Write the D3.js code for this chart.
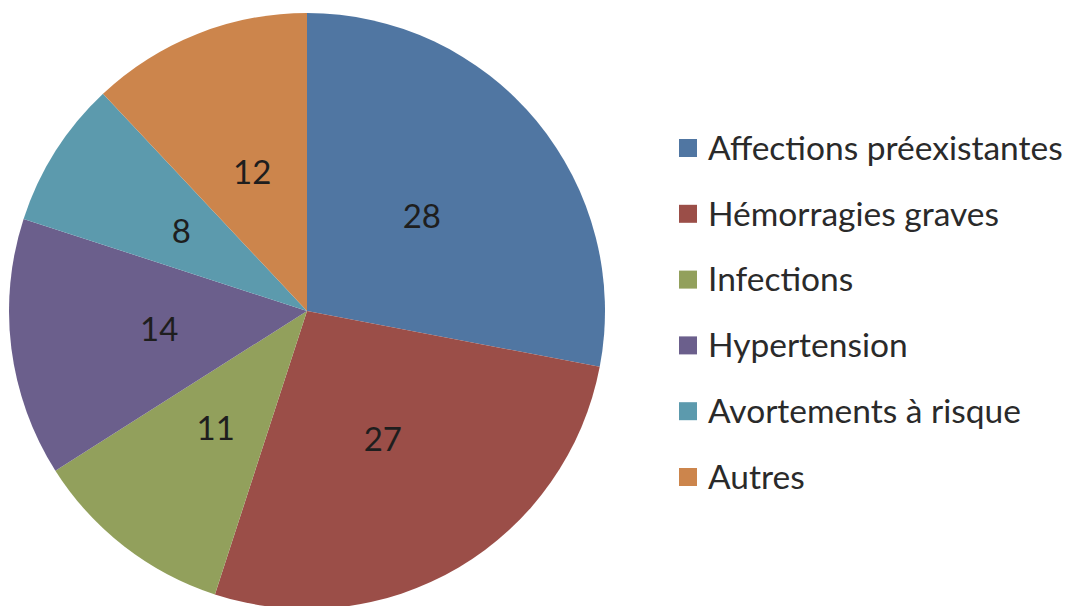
<!DOCTYPE html>
<html>
<head>
<meta charset="utf-8">
<script src="https://cdn.jsdelivr.net/npm/d3@7"></script>
<style>
  body { margin: 0; background: #fff; }
  svg { display: block; }
</style>
</head>
<body>
<div id="chart"></div>
<script>
// categories and values
var categories = ["Affections préexistantes", "Hémorragies graves", "Infections",
                  "Hypertension", "Avortements à risque", "Autres"];
var values = [28, 27, 11, 14, 8, 12];
var colors = ["#5076a2", "#9b4e48", "#92a05c", "#6b5f8c", "#5c9aad", "#cc854c"];

var width = 1076, height = 606;
var cx = 307, cy = 311, radius = 298;

var svg = d3.select("#chart").append("svg")
  .attr("width", width)
  .attr("height", height);

var data = categories.map(function(c, i) { return {name: c, value: values[i]}; });

var pie = d3.pie()
  .sort(null)
  .value(function(d) { return d.value; });

var arc = d3.arc().innerRadius(0).outerRadius(radius);

var color = d3.scaleOrdinal().domain(categories).range(colors);

var g = svg.append("g").attr("transform", "translate(" + cx + "," + cy + ")");

var slices = g.selectAll("g.slice")
  .data(pie(data))
  .enter().append("g")
  .attr("class", "slice");

slices.append("path")
  .attr("d", arc)
  .attr("fill", function(d) { return color(d.data.name); });

// labels sit at the centroid (half radius)
slices.append("text")
  .attr("transform", function(d) { return "translate(" + arc.centroid(d) + ")"; })
  .attr("text-anchor", "middle")
  .attr("dy", "0.35em")
  .style("font-family", "Lato, 'Open Sans', sans-serif")
  .style("font-size", "33px")
  .style("fill", "#1e1e1e")
  .text(function(d) { return d.data.value; });

// legend
var legend = svg.append("g").attr("transform", "translate(679,148)");

var rows = legend.selectAll("g")
  .data(categories)
  .enter().append("g")
  .attr("transform", function(d, i) { return "translate(0," + (i * 65.8) + ")"; });

rows.append("rect")
  .attr("x", 0)
  .attr("y", -9)
  .attr("width", 18)
  .attr("height", 18)
  .attr("fill", function(d) { return color(d); });

rows.append("text")
  .attr("x", 29)
  .attr("dy", "0.35em")
  .style("font-family", "Lato, 'Open Sans', sans-serif")
  .style("font-size", "33.5px")
  .style("fill", "#2a2a2a")
  .text(function(d) { return d; });
</script>
</body>
</html>
